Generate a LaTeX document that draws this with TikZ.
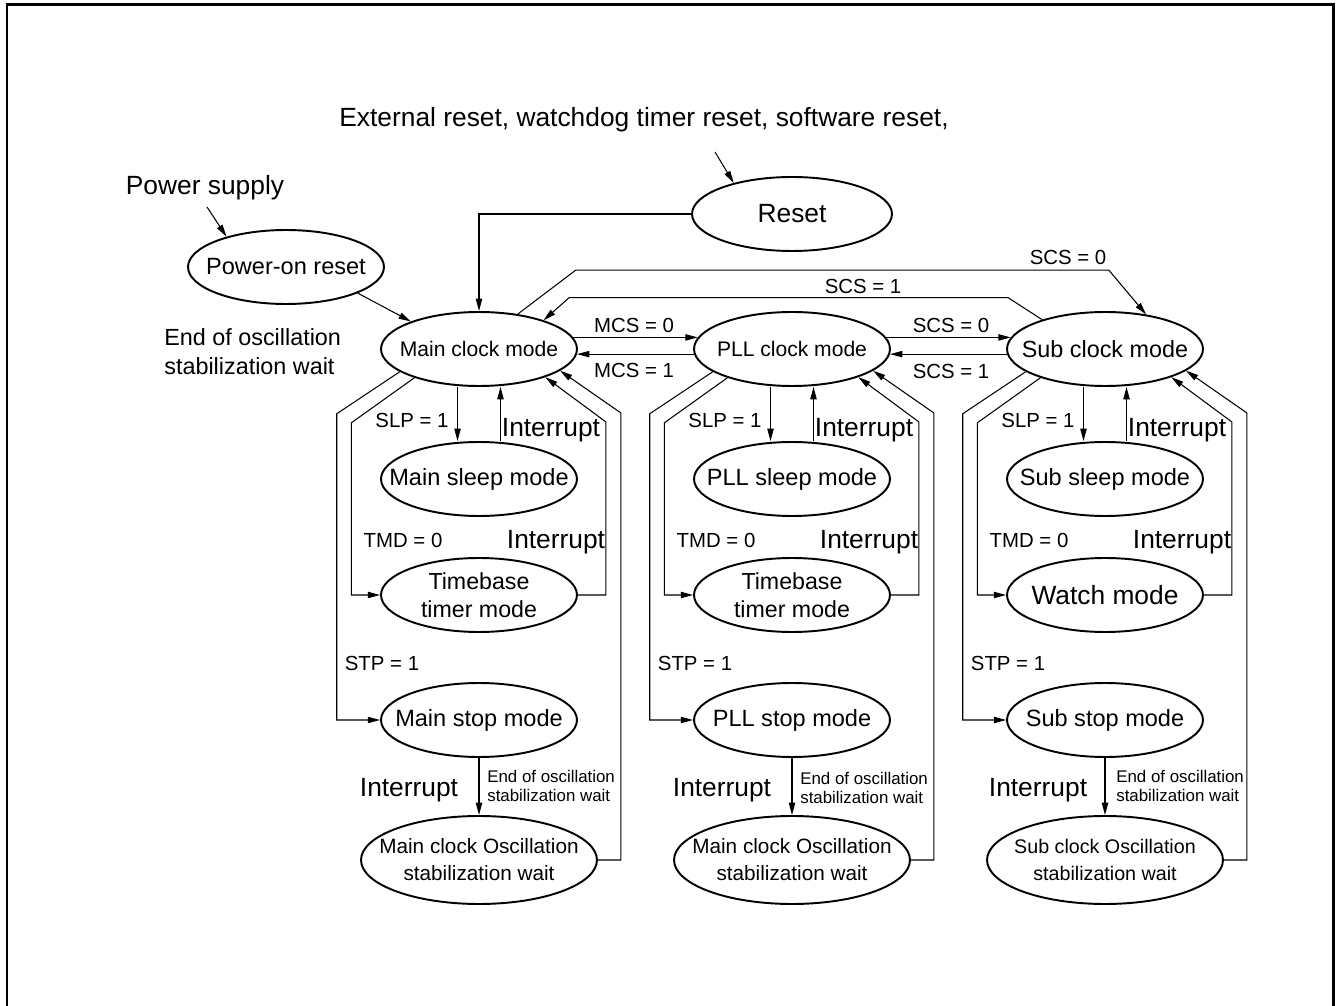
\documentclass[tikz,border=0pt]{standalone}
\usepackage{fontspec}
\setmainfont{Liberation Sans}
\usetikzlibrary{shapes.geometric,arrows.meta}

\begin{document}
\begin{tikzpicture}[x=0.02cm,y=-0.02cm,
  mode/.style={ellipse,draw,line width=1.1pt,inner xsep=-4cm,inner ysep=-2cm,
    minimum width=3.92cm,minimum height=1.48cm,align=center,
    font=\fontsize{13.4}{16}\selectfont},
  clk/.style={mode,font=\fontsize{12}{14}\selectfont},
  osc/.style={mode,minimum width=4.72cm,minimum height=1.76cm,
    font=\fontsize{11.8}{15.3}\selectfont},
  cond/.style={inner sep=0,font=\fontsize{11.6}{14}\selectfont},
  intr/.style={inner sep=0,font=\fontsize{15}{18}\selectfont},
  endw/.style={inner sep=0,anchor=west,align=left,font=\fontsize{9.6}{10.8}\selectfont},
  link/.style={line width=0.6pt,-{Triangle[length=7pt,width=3.6pt]}}]
\useasboundingbox (0,0) rectangle (1336,1006);
\draw[line width=1.7pt] (7,1012) -- (7,5) -- (1333,5) -- (1333,1012);

% reset sources
\node[intr,anchor=base west] (ext) at (339,127) {External reset, watchdog timer reset, software reset,};
\node[intr] (psup) at (205,188) {Power supply};
\node[mode,minimum width=4cm,font=\fontsize{15}{18}\selectfont] (rst) at (792,214) {Reset};
\node[mode] (por) at (286,267) {Power-on reset};
\node[inner sep=0,anchor=west,align=left,font=\fontsize{13.3}{16.4}\selectfont] (eow) at (164,352) {End of oscillation\\stabilization wait};
\coordinate (extin) at (715,152);
\coordinate (psin) at (207,207);

% clock modes
\node[clk] (mclk) at (479,349) {Main clock mode};
\node[clk] (pclk) at (792,349) {PLL clock mode};
\node[clk,font=\fontsize{13.3}{16}\selectfont] (sclk) at (1105,349) {Sub clock mode};
\node[cond] (mcs0) at (634,325) {MCS = 0};
\node[cond] (mcs1) at (634,370) {MCS = 1};
\node[cond] (scs0) at (951,325) {SCS = 0};
\node[cond] (scs1) at (951,371) {SCS = 1};
\node[cond] (scs0t) at (1068,257) {SCS = 0};
\node[cond] (scs1t) at (863,286) {SCS = 1};

% main column
\node[mode] (msl) at (479,479) {Main sleep mode};
\node[mode,font=\fontsize{13.2}{15.9}\selectfont] (mtb) at (479,595) {Timebase\\timer mode};
\node[mode] (mst) at (479,720) {Main stop mode};
\node[osc] (mos) at (479,860) {Main clock Oscillation\\stabilization wait};
\node[cond] (mslp) at (412,420) {SLP = 1};
\node[intr] (mint1) at (551,430) {Interrupt};
\node[cond] (mtmd) at (403,540) {TMD = 0};
\node[intr] (mint2) at (556,542) {Interrupt};
\node[cond] (mstp) at (382,663) {STP = 1};
\node[intr] (mint3) at (409,790) {Interrupt};
\node[endw] (mend) at (487,786) {End of oscillation\\stabilization wait};

% PLL column
\node[mode] (psl) at (792,479) {PLL sleep mode};
\node[mode,font=\fontsize{13.2}{15.9}\selectfont] (ptb) at (792,595) {Timebase\\timer mode};
\node[mode] (pst) at (792,720) {PLL stop mode};
\node[osc] (pos) at (792,860) {Main clock Oscillation\\stabilization wait};
\node[cond] (pslp) at (725,420) {SLP = 1};
\node[intr] (pint1) at (864,430) {Interrupt};
\node[cond] (ptmd) at (716,540) {TMD = 0};
\node[intr] (pint2) at (869,542) {Interrupt};
\node[cond] (pstp) at (695,663) {STP = 1};
\node[intr] (pint3) at (722,790) {Interrupt};
\node[endw] (pend) at (800,788) {End of oscillation\\stabilization wait};

% sub column
\node[mode] (ssl) at (1105,479) {Sub sleep mode};
\node[mode,font=\fontsize{15}{18}\selectfont] (swt) at (1105,595) {Watch mode};
\node[mode] (sst) at (1105,720) {Sub stop mode};
\node[osc,font=\fontsize{11.2}{15.3}\selectfont] (sos) at (1105,860) {Sub clock Oscillation\\stabilization wait};
\node[cond] (sslp) at (1038,420) {SLP = 1};
\node[intr] (sint1) at (1177,430) {Interrupt};
\node[cond] (stmd) at (1029,540) {TMD = 0};
\node[intr] (sint2) at (1182,542) {Interrupt};
\node[cond] (sstp) at (1008,663) {STP = 1};
\node[intr] (sint3) at (1038,790) {Interrupt};
\node[endw] (send) at (1116,786) {End of oscillation\\stabilization wait};

% top connectors
\draw[link] (extin) -- (rst.152);
\draw[link] (psin) -- (por.153);
\draw[link] (por.340) -- (mclk.158);
\draw[link] (rst.west) -| (mclk.north);
\draw[link] (mclk.42) -- ++(58,-44) -- ++(533,0) -- (sclk.40);
\draw[link] (sclk.155) -- ++(-34,-22) -- ++(-439,0) -- (mclk.24);
\draw[link] (mclk.7) -- (pclk.173);
\draw[link] (pclk.183) -- (mclk.357);
\draw[link] (pclk.7) -- (sclk.173);
\draw[link] (sclk.183) -- (pclk.357);

% main column connectors
\draw[link] ([xshift=-0.43cm]mclk.south) -- ([xshift=-0.43cm]msl.north);
\draw[link] ([xshift=0.43cm]msl.north) -- ([xshift=0.43cm]mclk.south);
\draw[link] (mclk.204) -- ++(-63,45) |- (mtb.west);
\draw[link] (mclk.196) -- ++(-63,42) |- (mst.west);
\draw[link] (mtb.east) -- ++(28,0) -- ++(0,-173) -- (mclk.337);
\draw[link] (mos.east) -- ++(23,0) -- ++(0,-447) -- (mclk.345);
\draw[link] (mst) -- (mos);

% PLL column connectors
\draw[link] ([xshift=-0.43cm]pclk.south) -- ([xshift=-0.43cm]psl.north);
\draw[link] ([xshift=0.43cm]psl.north) -- ([xshift=0.43cm]pclk.south);
\draw[link] (pclk.204) -- ++(-63,45) |- (ptb.west);
\draw[link] (pclk.196) -- ++(-63,42) |- (pst.west);
\draw[link] (ptb.east) -- ++(28,0) -- ++(0,-173) -- (pclk.337);
\draw[link] (pos.east) -- ++(23,0) -- ++(0,-447) -- (pclk.345);
\draw[link] (pst) -- (pos);

% sub column connectors
\draw[link] ([xshift=-0.43cm]sclk.south) -- ([xshift=-0.43cm]ssl.north);
\draw[link] ([xshift=0.43cm]ssl.north) -- ([xshift=0.43cm]sclk.south);
\draw[link] (sclk.204) -- ++(-63,45) |- (swt.west);
\draw[link] (sclk.196) -- ++(-63,42) |- (sst.west);
\draw[link] (swt.east) -- ++(28,0) -- ++(0,-173) -- (sclk.337);
\draw[link] (sos.east) -- ++(23,0) -- ++(0,-447) -- (sclk.345);
\draw[link] (sst) -- (sos);
\end{tikzpicture}
\end{document}
